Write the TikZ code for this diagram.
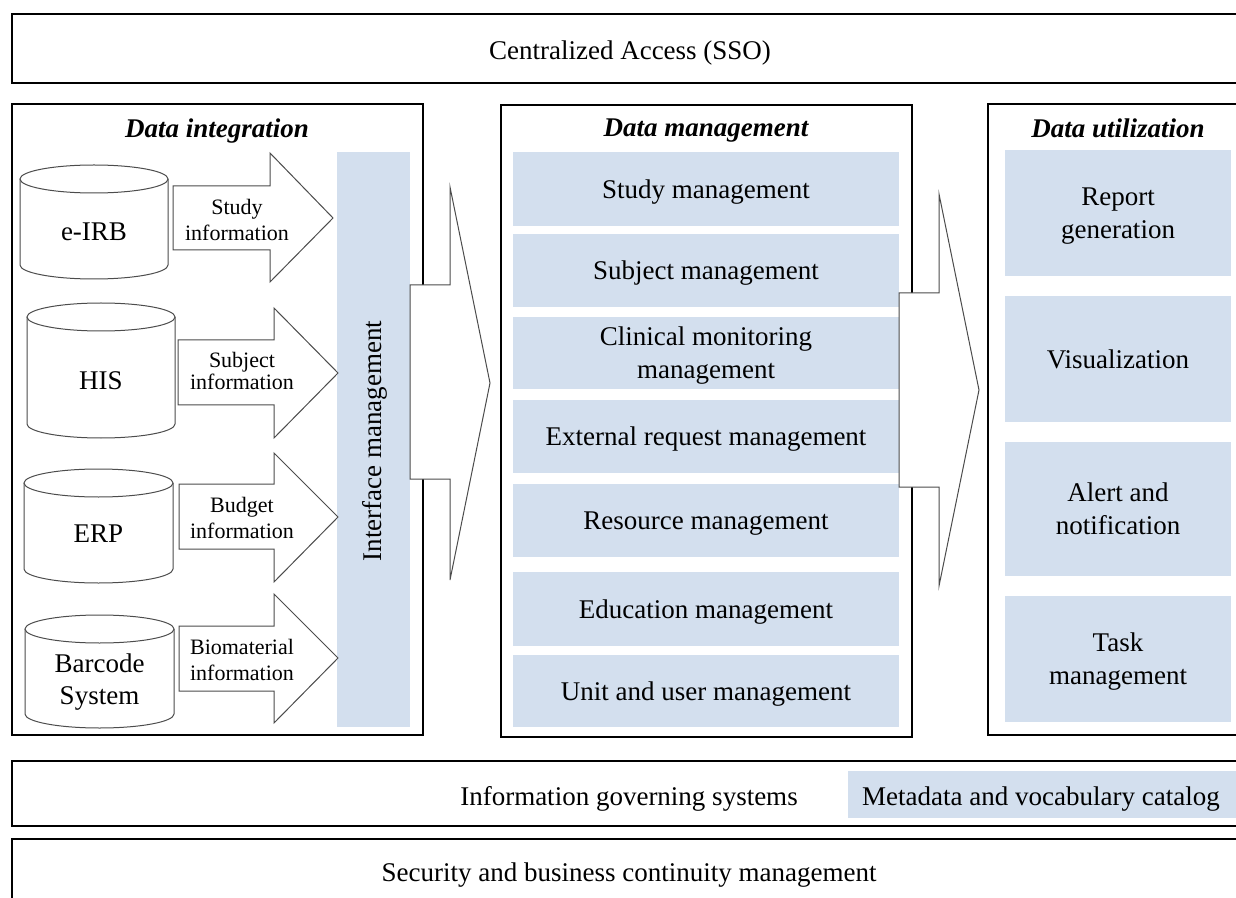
\documentclass[tikz,border=0pt]{standalone}
\usepackage{fontspec}
\setmainfont{Liberation Serif}
\usepackage{xcolor}
\definecolor{paleblue}{RGB}{211,223,238}

\begin{document}
\begin{tikzpicture}[x=0.5pt,y=-0.5pt,
    frame/.style={draw=black,line width=1pt},
    grayline/.style={draw=black!70,line width=0.5pt,fill=white},
    bluebox/.style={fill=paleblue,anchor=north west,inner sep=0pt,outer sep=0pt,align=center,text depth=0pt,font=\fontsize{13.5}{16.5}\selectfont},
    plaintext/.style={font=\fontsize{13.5}{16}\selectfont,align=center},
    infotext/.style={font=\fontsize{11}{13}\selectfont,align=center},
    headtext/.style={font=\fontsize{13.5}{16}\selectfont\bfseries\itshape}]
      \path[use as bounding box] (0,0) rectangle (1236,898);
      \fill[white] (0,0) rectangle (1236,898);
      \clip (0,0) rectangle (1236,898);

      % top and bottom bands
      \draw[frame] (12,14) rectangle (1245,83);
      \node[plaintext] (sso) at (630,53) {Centralized Access (SSO)};
      \draw[frame] (12,761) rectangle (1245,826);
      \node[plaintext] (govern) at (629,799) {Information governing systems};
      \node[bluebox,minimum width=200pt,minimum height=23.5pt] (catalog) at (848,771) {};
      \node[plaintext] (catalogtext) at (1041,799) {Metadata and vocabulary catalog};
      \draw[frame] (12,839) rectangle (1245,960);
      \node[plaintext] (security) at (629,875) {Security and business continuity management};

      % data integration
      \draw[frame] (12,104) rectangle (423,735);
      \node[headtext] (integration) at (217,131) {Data integration};
      \node[bluebox,minimum width=36.5pt,minimum height=287.5pt] (interface) at (337,152) {};
      \node[plaintext,rotate=90] (interfacetext) at (375,441) {Interface management};

      \draw[grayline] (20,179) -- (20,265) arc[start angle=180,end angle=360,x radius=37pt,y radius=7pt] -- (168,179);
      \draw[grayline] (94,179) ellipse[x radius=37pt,y radius=7pt];
      \node[plaintext] (eirb) at (94,232) {e-IRB};
      \draw[grayline] (27,317) -- (27,424) arc[start angle=180,end angle=360,x radius=37pt,y radius=7pt] -- (175,317);
      \draw[grayline] (101,317) ellipse[x radius=37pt,y radius=7pt];
      \node[plaintext] (his) at (101,381) {HIS};
      \draw[grayline] (24,483) -- (24,569) arc[start angle=180,end angle=360,x radius=37.25pt,y radius=7pt] -- (173,483);
      \draw[grayline] (98.5,483) ellipse[x radius=37.25pt,y radius=7pt];
      \node[plaintext] (erp) at (98.5,534) {ERP};
      \draw[grayline] (25,629) -- (25,714) arc[start angle=180,end angle=360,x radius=37.25pt,y radius=7pt] -- (174,629);
      \draw[grayline] (99.5,629) ellipse[x radius=37.25pt,y radius=7pt];
      \node[plaintext] (barcode) at (99.5,682) {Barcode\\System};

      \draw[grayline] (173,186) -- (270,186) -- (270,153) -- (333,218) -- (270,282) -- (270,250) -- (173,250) -- cycle;
      \node[infotext] (studyinfo) at (237,220) {Study\\information};
      \draw[grayline] (178,340) -- (274,340) -- (274,308) -- (338,373) -- (274,438) -- (274,405) -- (178,405) -- cycle;
      \node[infotext,font=\fontsize{11}{10}\selectfont] (subjectinfo) at (242,371) {Subject\\information};
      \draw[grayline] (179,484) -- (274,484) -- (274,453) -- (338,517) -- (274,582) -- (274,549) -- (179,549) -- cycle;
      \node[infotext] (budgetinfo) at (242,518) {Budget\\information};
      \draw[grayline] (179,626) -- (274,626) -- (274,594) -- (338,658) -- (274,723) -- (274,691) -- (179,691) -- cycle;
      \node[infotext] (bioinfo) at (242,660) {Biomaterial\\information};

      % data management
      \draw[frame] (501,105) rectangle (912,737);
      \node[headtext] (management) at (706,131) {Data management};
      \node[bluebox,minimum width=193pt,minimum height=37pt] (study) at (513,152) {Study management};
      \node[bluebox,minimum width=193pt,minimum height=36.5pt] (subject) at (513,234) {Subject management};
      \node[bluebox,minimum width=193pt,minimum height=36pt] (clinical) at (513,317) {Clinical monitoring\\management};
      \node[bluebox,minimum width=193pt,minimum height=36.5pt] (external) at (513,400) {External request management};
      \node[bluebox,minimum width=193pt,minimum height=36.5pt] (resource) at (513,484) {Resource management};
      \node[bluebox,minimum width=193pt,minimum height=37pt] (education) at (513,572) {Education management};
      \node[bluebox,minimum width=193pt,minimum height=36pt] (unit) at (513,655) {Unit and user management};

      % data utilization
      \draw[frame] (988,104) rectangle (1245,735);
      \node[headtext] (utilization) at (1118,128) {Data utilization};
      \node[bluebox,minimum width=113pt,minimum height=63pt] (report) at (1005,150) {Report\\generation};
      \node[bluebox,minimum width=113pt,minimum height=63pt] (visual) at (1005,296) {Visualization};
      \node[bluebox,minimum width=113pt,minimum height=67pt] (alert) at (1005,442) {Alert and\\notification};
      \node[bluebox,minimum width=113pt,minimum height=63pt] (task) at (1005,596) {Task\\management};

      % big arrows
      \draw[grayline] (410,285) -- (450,285) -- (450,187) -- (490,383) -- (450,580) -- (450,479) -- (410,479) -- cycle;
      \draw[grayline] (899,293) -- (939,293) -- (939,194) -- (979,390) -- (939,586) -- (939,487) -- (899,487) -- cycle;
    \end{tikzpicture}
\end{document}
